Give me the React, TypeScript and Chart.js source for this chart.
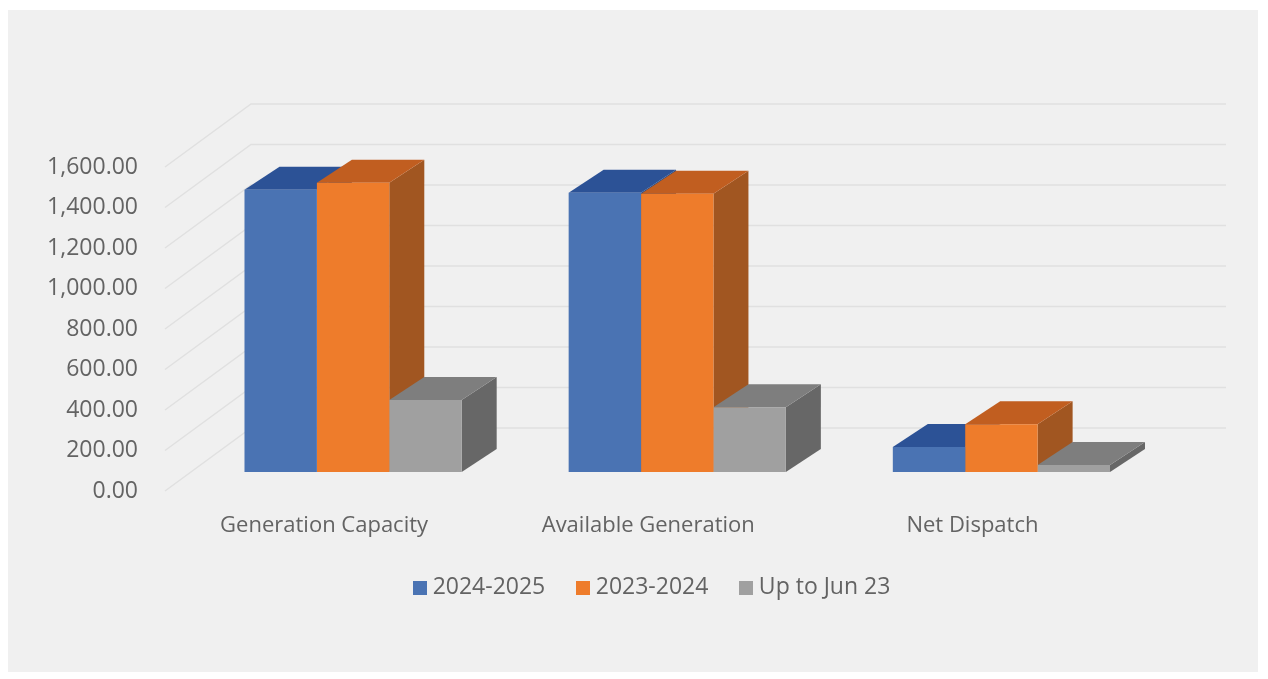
import React, { useEffect, useRef } from "react";
import { Chart, registerables } from "chart.js";

Chart.register(...registerables);

const categories = ["Generation Capacity", "Available Generation", "Net Dispatch"];
const legendNames = ["2024-2025", "2023-2024", "Up to Jun 23"];
const capacity2425 = [1394, 1379, 123];
const capacity2324 = [1428, 1374, 236];
const upToJun23 = [355, 320, 35];
const seriesValues = [capacity2425, capacity2324, upToJun23];

const frontColors = ["#4a73b3", "#ee7c2b", "#a0a0a0"];
const topColors = ["#2c5296", "#c15e20", "#7e7e7e"];
const sideColors = ["#2a4a80", "#a15621", "#676767"];

const FONT = '"Open Sans", sans-serif';
const TEXT = "#636363";
const GRID = "#e0e0e0";

// Projection of the chart's box: the wall sits behind the axis plane, bars stand inside it.
const FLOOR_INSET = 26;
const WALL_DX = 86;
const WALL_DY = 63;
const WALL_RIGHT = 1226;
const BAR_SHIFT_Y = -19;
const BAR_DEPTH_X = 35;
const BAR_DEPTH_Y = 23;

// The legend sits off-centre and above the space reserved for it.
const LEGEND_SHIFT_X = 106;
const LEGEND_SHIFT_Y = -26;

function swatch(color: string) {
  const c = document.createElement("canvas");
  c.width = 14;
  c.height = 14;
  const g = c.getContext("2d")!;
  g.fillStyle = color;
  g.fillRect(0, 0, 14, 14);
  return c;
}

function fillPoly(ctx: CanvasRenderingContext2D, color: string, pts: number[][]) {
  ctx.fillStyle = color;
  ctx.beginPath();
  pts.forEach(([x, y], i) => (i ? ctx.lineTo(x, y) : ctx.moveTo(x, y)));
  ctx.closePath();
  ctx.fill();
}

const box3d = {
  id: "box3d",
  afterLayout(chart: any) {
    const legend = chart.legend;
    legend.left += LEGEND_SHIFT_X;
    legend.top += LEGEND_SHIFT_Y;
    legend.bottom += LEGEND_SHIFT_Y;
  },
  beforeDatasetsDraw(chart: any) {
    const { ctx } = chart;
    const yScale = chart.scales.y;
    const frontX = chart.chartArea.left - FLOOR_INSET;

    // Side wall and back wall rules, one per tick.
    ctx.save();
    ctx.strokeStyle = GRID;
    ctx.lineWidth = 1.5;
    yScale.ticks.forEach((t: any) => {
      const y = yScale.getPixelForValue(t.value);
      ctx.beginPath();
      ctx.moveTo(frontX, y);
      ctx.lineTo(frontX + WALL_DX, y - WALL_DY);
      ctx.lineTo(WALL_RIGHT, y - WALL_DY);
      ctx.stroke();
    });

    // Top and side faces go first so the front faces drawn by Chart.js cover them.
    seriesValues.forEach((_, ds) => {
      chart.getDatasetMeta(ds).data.forEach((bar: any) => {
        const { x, y, base, width } = bar.getProps(["x", "y", "base", "width"], true);
        const l = x - width / 2;
        const r = x + width / 2;
        const t = y + BAR_SHIFT_Y;
        const b = base + BAR_SHIFT_Y;
        fillPoly(ctx, sideColors[ds], [
          [r, t],
          [r + BAR_DEPTH_X, t - BAR_DEPTH_Y],
          [r + BAR_DEPTH_X, b - BAR_DEPTH_Y],
          [r, b],
        ]);
        fillPoly(ctx, topColors[ds], [
          [l, t],
          [l + BAR_DEPTH_X, t - BAR_DEPTH_Y],
          [r + BAR_DEPTH_X, t - BAR_DEPTH_Y],
          [r, t],
        ]);
      });
    });
    ctx.restore();

    ctx.save();
    ctx.translate(0, BAR_SHIFT_Y);
  },
  afterDatasetsDraw(chart: any) {
    chart.ctx.restore();
  },
};

export default function App() {
  const ref = useRef<HTMLCanvasElement>(null);

  useEffect(() => {
    document.body.style.margin = "0";
    const chart = new Chart(ref.current!, {
      type: "bar",
      data: {
        labels: categories,
        datasets: seriesValues.map((values, i) => ({
          label: legendNames[i],
          data: values,
          backgroundColor: frontColors[i],
          borderWidth: 0,
          clip: false as any,
          barPercentage: 1,
          categoryPercentage: 0.67,
        })),
      },
      options: {
        animation: false,
        responsive: false,
        layout: { padding: { left: 40, right: 104.5, top: 167, bottom: 44 } },
        plugins: {
          title: { display: false },
          tooltip: { enabled: false },
          legend: {
            position: "bottom",
            labels: {
              color: TEXT,
              font: { family: FONT, size: 23 },
              boxWidth: 2,
              boxHeight: 14,
              padding: 37,
              usePointStyle: true,
              generateLabels: () =>
                legendNames.map((text, i) => ({
                  text,
                  datasetIndex: i,
                  fontColor: TEXT,
                  fillStyle: frontColors[i],
                  lineWidth: 0,
                  pointStyle: swatch(frontColors[i]),
                })),
            },
          },
        },
        scales: {
          x: {
            grid: { display: false },
            border: { display: false },
            afterFit: (scale: any) => {
              scale.height = 74;
            },
            ticks: {
              color: TEXT,
              font: { family: FONT, size: 22 },
              labelOffset: -29,
              padding: 14,
              maxRotation: 0,
              autoSkip: false,
            },
          },
          y: {
            min: 0,
            max: 1600,
            grid: { display: false },
            border: { display: false },
            afterFit: (scale: any) => {
              scale.width = 151;
            },
            ticks: {
              stepSize: 200,
              color: TEXT,
              font: { family: FONT, size: 23 },
              padding: 45,
              callback: (v: any) =>
                Number(v).toLocaleString("en-US", {
                  minimumFractionDigits: 2,
                  maximumFractionDigits: 2,
                }),
            },
          },
        },
      },
      plugins: [box3d],
    } as any);
    return () => chart.destroy();
  }, []);

  return (
    <div style={{ position: "fixed", inset: 0, background: "#fff" }}>
      <div style={{ position: "absolute", left: 8, top: 10, right: 10, bottom: 7, background: "#f0f0f0" }} />
      <canvas ref={ref} width={1268} height={679} style={{ position: "absolute", left: 0, top: 0, display: "block" }} />
    </div>
  );
}
